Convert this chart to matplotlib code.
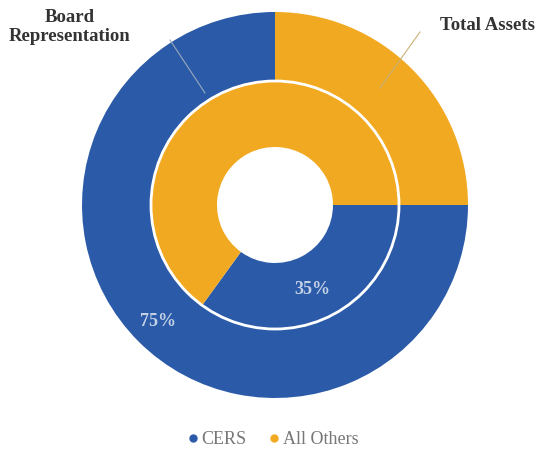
import matplotlib.pyplot as plt
from matplotlib.lines import Line2D
from matplotlib.patches import Circle

# data
groups = ["CERS", "All Others"]
total_assets = [75, 25]
board_rep = [35, 65]
colors = ["#2b5ba8", "#f2a922"]

plt.rcParams['font.family'] = ['Liberation Serif', 'DejaVu Serif']

fig = plt.figure(figsize=(5.42, 4.51), dpi=100)
ax = fig.add_axes([0, 0, 1, 1])

H = 451
cx, cy = 275, H - 205
R_out = 193
R_in = 124
R_hole = 58

# outer ring: total assets
ax.pie(total_assets, colors=colors, startangle=0, counterclock=False,
       center=(cx, cy), radius=R_out, frame=True,
       wedgeprops=dict(width=R_out - R_in, linewidth=0))
# inner ring: board representation
ax.pie(board_rep, colors=colors, startangle=0, counterclock=False,
       center=(cx, cy), radius=R_in, frame=True,
       wedgeprops=dict(width=R_in - R_hole, linewidth=0))
ax.add_patch(Circle((cx, cy), R_in, fill=False, ec='white', lw=2))
ax.set_xlim(0, 542)
ax.set_ylim(0, H)
ax.set_aspect('equal')
ax.axis('off')

# percentage labels
ax.text(158, H - 322, "75%", color="#c3d0e6", fontsize=13, fontweight='bold',
        ha='center', va='center')
ax.text(312, H - 290, "35%", color="#c3d0e6", fontsize=13, fontweight='bold',
        ha='center', va='center')

# series labels with leader lines
ax.text(70, H - 27, "Board\nRepresentation", fontsize=13.5, fontweight='bold',
        ha='center', va='center', color='#333333', linespacing=1.1)
ax.plot([170, 205], [H - 40, H - 93], color='#9aa8bd', lw=0.8)
ax.text(487, H - 26, "Total Assets", fontsize=13.5, fontweight='bold',
        ha='center', va='center', color='#333333')
ax.plot([420, 380], [H - 32, H - 88], color='#c9b078', lw=0.8)

handles = [Line2D([], [], marker='o', ls='', color=c, markersize=5) for c in colors]
fig.legend(handles, groups, loc='center', bbox_to_anchor=(0.5, 1 - 440 / H),
           ncol=2, frameon=False, fontsize=13, handletextpad=0.0,
           handlelength=1.0, columnspacing=1.0, labelcolor='#777777')

fig.savefig("out.png", dpi=100)
